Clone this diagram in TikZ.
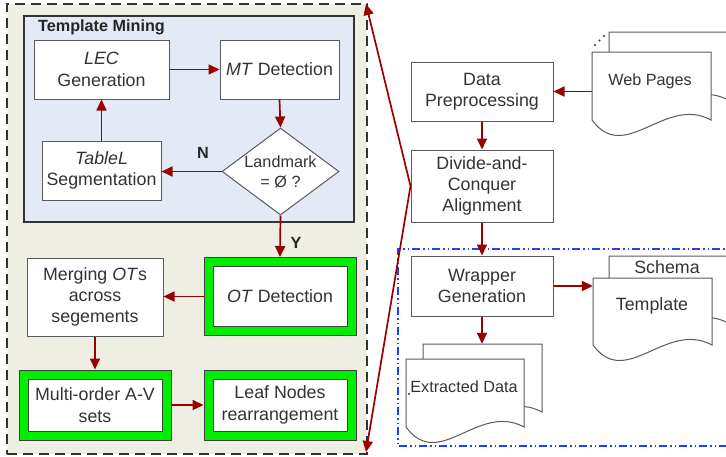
\documentclass[tikz,border=0pt]{standalone}
\usepackage{fontspec}
\setmainfont{Liberation Sans}
\usetikzlibrary{arrows.meta,shapes.geometric}
\definecolor{myred}{HTML}{990000}
\definecolor{mygreen}{HTML}{00EE00}
\definecolor{beige}{HTML}{EEEEE3}
\definecolor{lblue}{HTML}{E3E9F5}
\definecolor{txt}{HTML}{333333}
\definecolor{bord}{HTML}{5A5A5A}
\definecolor{dblue}{HTML}{2040FF}
\newcommand\mfont{\fontsize{17.8}{21.3}\selectfont}
\newcommand\sfontx{\fontsize{16.2}{20}\selectfont}
\newcommand\bfontx{\fontsize{16.2}{20}\selectfont\bfseries}
\newcommand\docpath[4]{\filldraw[docline] (#1,#2) -- ({#1+#3},#2) -- ({#1+#3},{#2+#4}) .. controls ({#1+#3-46},{#2+#4-25}) and ({#1+33},{#2+#4+45}) .. (#1,{#2+#4}) -- cycle;}
\begin{document}
\begin{tikzpicture}[x=1pt,y=-1pt,
  box/.style={draw=bord, line width=1pt, fill=white, text=txt, align=center, inner sep=0pt, font=\mfont},
  gbox/.style={box, draw=black!75, double=mygreen, double distance=8pt, outer sep=5pt},
  arr/.style={draw=myred, line width=1.7pt, -{Triangle[length=11pt,width=10pt]}},
  docline/.style={draw=bord, line width=1pt, fill=white},
  plain/.style={inner sep=0pt, text=txt, align=center}]
\useasboundingbox (0,0) rectangle (726,456);
\fill[white] (0,0) rectangle (726,456);

% containers
\node (outer) [draw=black!80, line width=2pt, dash pattern=on 10pt off 6pt, fill=beige,
  minimum width=360pt, minimum height=450pt, inner sep=0pt, anchor=north west] at (6,3) {};
\node (tm) [draw=black!80, line width=2pt, fill=lblue, minimum width=330pt, minimum height=206pt,
  inner sep=0pt, anchor=north west] at (23,15) {};
\node (tmlabel) [plain, anchor=west, font=\bfontx, text=black!85] at (38,27) {Template Mining};

% template mining nodes
\node (lec) [box, minimum width=135pt, minimum height=59pt] at (101.5,69.5) {\textit{LEC}\\Generation};
\node (mt) [box, minimum width=119pt, minimum height=59pt] at (279.5,69.5) {\textit{MT} Detection};
\node (tab) [box, minimum width=119pt, minimum height=59pt] at (101.5,170.5) {\textit{TableL}\\Segmentation};
\node (dia) [diamond, draw=bord, line width=1pt, fill=white, minimum width=117pt, minimum height=87pt, inner sep=0pt] at (280.5,171.5) {};
\node (diatext) [plain, font=\sfontx] at (280.5,171.5) {Landmark\\= Ø ?};
\node (nlab) [plain, font=\bfontx, text=black!85] at (203,153) {N};
\node (ylab) [plain, font=\bfontx, text=black!85] at (296,243) {Y};

% lower nodes
\node (ot) [gbox, minimum width=143pt, minimum height=69pt] at (280,296.5) {\textit{OT} Detection};
\node (merge) [box, minimum width=136pt, minimum height=78pt] at (95,297) {Merging \textit{OT}s\\across\\segements};
\node (multi) [gbox, minimum width=143pt, minimum height=61pt] at (95,405) {Multi-order A-V\\sets};
\node (leaf) [gbox, minimum width=143pt, minimum height=61pt] at (280,405) {Leaf Nodes\\rearrangement};

% right side
\node (dp) [box, minimum width=142pt, minimum height=59pt] at (482,91.5) {Data\\Preprocessing};
\node (dc) [box, minimum width=142pt, minimum height=72pt] at (482,186) {Divide-and-\\Conquer\\Alignment};
\draw[dblue, line width=1.2pt, dash pattern=on 8pt off 3pt on 1.5pt off 3pt on 1.5pt off 3pt]
  (740,249) -- (398,249) -- (398,446) -- (740,446);
\node (wg) [box, minimum width=142pt, minimum height=60pt] at (482,286) {Wrapper\\Generation};

% documents
\docpath{609}{32}{119}{68}
\docpath{592}{52}{119}{68}
\node (web) [inner sep=0pt, minimum width=119pt, minimum height=68pt] at (651.5,86) {};
\node (webtext) [plain, font=\sfontx] at (650,81) {Web Pages};
\fill[black!80] (595,45) circle (1.2) (599.5,40.5) circle (1.2) (604,36) circle (1.2);

\docpath{609}{256}{119}{67}
\node (schema) [plain, font=\mfont] at (667,267) {Schema};
\docpath{593}{278}{119}{67}
\node (tmpl) [inner sep=0pt, minimum width=119pt, minimum height=67pt] at (652.5,311.5) {};
\node (tmpltext) [plain, font=\mfont] at (652,306) {Template};

\docpath{423}{344}{119}{68}
\node (extback) [inner sep=0pt, minimum width=119pt, minimum height=68pt] at (482.5,378) {};
\docpath{406}{359}{118}{68}
\node (ext) [inner sep=0pt, minimum width=118pt, minimum height=68pt] at (465,393) {};
\node (exttext) [plain, font=\sfontx] at (464,387) {Extracted Data};
\fill[black!80] (409,394) circle (1.2);

% arrows
\draw[arr] (lec.east) -- (mt.west);
\draw[arr] (mt.south) -- (dia.north);
\draw[arr] (dia.west) -- (dia.west -| tab.east);
\draw[arr] (tab.north) -- (lec.south);
\draw[arr] (dia.south) -- (ot.north);
\draw[arr] (ot.west) -- (ot.west -| merge.east);
\draw[arr] (merge.south) -- (merge.south |- multi.north);
\draw[arr] (multi.east) -- (leaf.west);
\draw[arr] (web.west |- dp.east) -- (dp.east);
\draw[arr] (dp.south) -- (dc.north);
\draw[arr] (dc.south) -- (wg.north);
\draw[arr] (wg.east) -- (wg.east -| tmpl.west);
\draw[arr] (wg.south) -- (wg.south |- extback.north);

% expansion lines
\coordinate (topc) at (366,4);
\coordinate (botc) at (366,452);
\draw[arr] (dc.west) -- (topc);
\draw[arr] (dc.west) -- (botc);
\end{tikzpicture}
\end{document}
